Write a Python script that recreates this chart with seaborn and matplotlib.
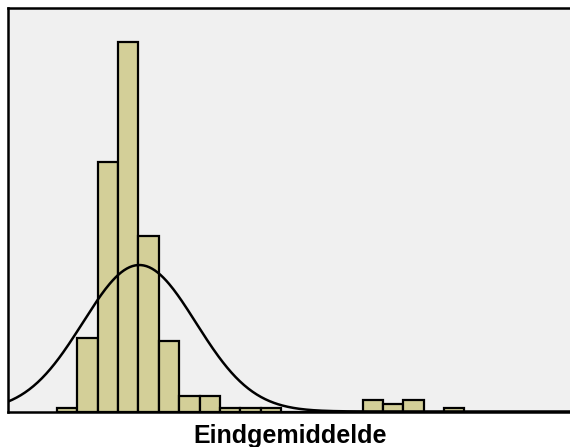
import numpy as np
import pandas as pd
import matplotlib
matplotlib.use("Agg")
import matplotlib.pyplot as plt
import seaborn as sns

# Histogram bin counts, bins of equal width
bin_start = 0.0
bin_width = 1.0
counts = [1, 19, 64, 95, 45, 18, 4, 4, 1, 1, 1, 0, 0, 0, 0, 3, 2, 3, 0, 1]
x_label = "Eindgemiddelde"

edges = bin_start + bin_width * np.arange(len(counts) + 1)
centers = (edges[:-1] + edges[1:]) / 2
values = np.repeat(centers, counts)
df = pd.DataFrame({x_label: values})

sns.set_theme(style="white")
plt.rcParams['font.family'] = ['Liberation Sans', 'DejaVu Sans']

fig = plt.figure(figsize=(5.70, 4.47), dpi=100)
ax = fig.add_axes([8 / 570, (447 - 411.5) / 447, (572 - 8) / 570, (411.5 - 7.5) / 447])
ax.set_facecolor("#f0f0f0")

sns.histplot(data=df, x=x_label, bins=edges, stat="count", color="#d3cf98",
             edgecolor="black", linewidth=1.6, alpha=1, ax=ax)

xmin, xmax = -2.405, 25.28
mu = values.mean()
sd = values.std(ddof=1)
xs = np.linspace(xmin, xmax, 400)
ys = len(values) * bin_width / (sd * np.sqrt(2 * np.pi)) * np.exp(-0.5 * ((xs - mu) / sd) ** 2)
sns.lineplot(x=xs, y=ys, color="black", linewidth=1.8, ax=ax)

ax.set_xlim(xmin, xmax)
ax.set_ylim(0, 103.8)
ax.set_xticks([])
ax.set_yticks([])
ax.set_ylabel("")
ax.set_xlabel(x_label, fontsize=18, fontweight="bold", labelpad=9, color="black")
for s in ax.spines.values():
    s.set_color("black")
    s.set_linewidth(1.8)

fig.savefig("out.png", dpi=100)
